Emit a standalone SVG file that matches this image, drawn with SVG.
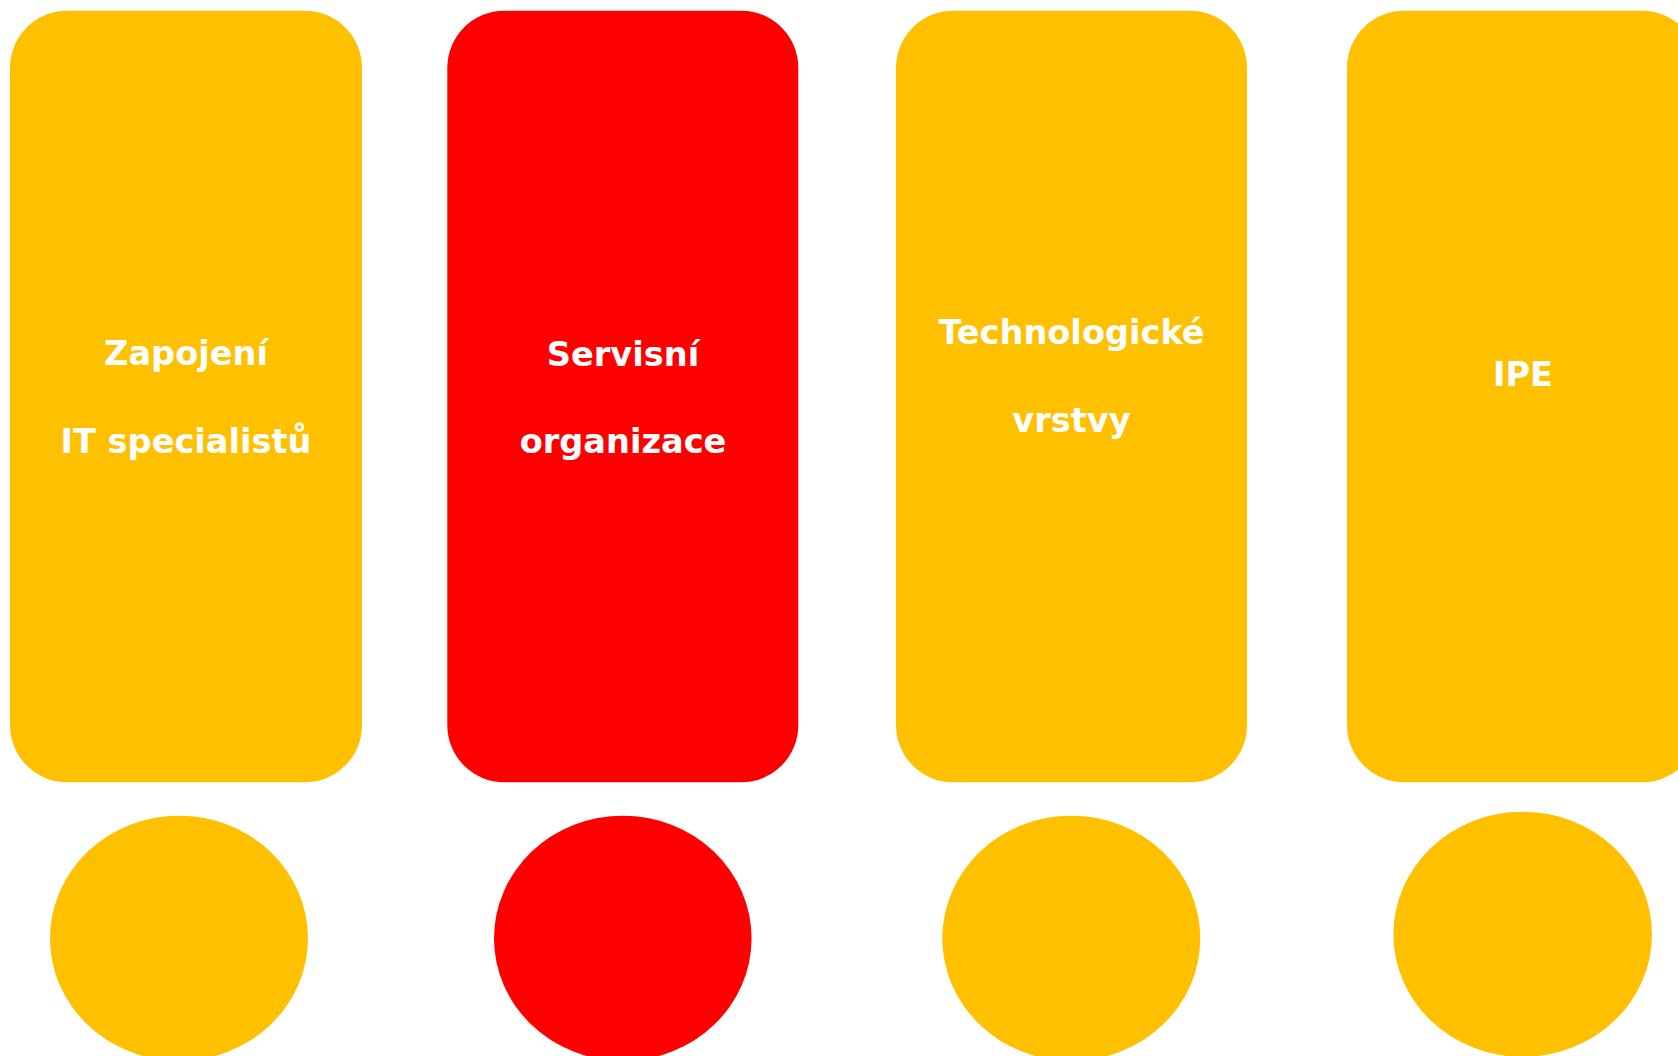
<svg xmlns="http://www.w3.org/2000/svg" width="1678" height="1056" viewBox="0 0 1678 1056">
  <style>
    .gold { fill: #FFC000; }
    .red { fill: #FF0000; }
    .label { fill: #FFFFFF; font-family: "DejaVu Sans", Verdana, sans-serif; font-weight: bold; font-size: 33.6px; text-anchor: middle; }
  </style>
  <rect width="1678" height="1056" fill="#FFFFFF"/>

  <g id="connectors"></g>

  <!-- column 1 -->
  <g id="zapojeni">
    <rect class="gold" x="10" y="10.7" width="352" height="771.6" rx="57" ry="57"/>
    <text class="label" x="186" y="365">Zapojení</text>
    <text class="label" x="186" y="453">IT specialistů</text>
  </g>
  <g id="circle-1">
    <ellipse class="gold" cx="179" cy="938.3" rx="129" ry="122.6"/>
  </g>

  <!-- column 2 -->
  <g id="servisni">
    <rect class="red" x="447.3" y="10.7" width="351" height="771.6" rx="57" ry="57"/>
    <text class="label" x="623" y="365.5">Servisní</text>
    <text class="label" x="623" y="453">organizace</text>
  </g>
  <g id="circle-2">
    <ellipse class="red" cx="622.8" cy="938.3" rx="128.8" ry="122.6"/>
  </g>

  <!-- column 3 -->
  <g id="technologicke">
    <rect class="gold" x="896" y="10.7" width="351" height="771.6" rx="57" ry="57"/>
    <text class="label" x="1071.5" y="344">Technologické</text>
    <text class="label" x="1071.5" y="432">vrstvy</text>
  </g>
  <g id="circle-3">
    <ellipse class="gold" cx="1071.3" cy="938.3" rx="129" ry="122.6"/>
  </g>

  <!-- column 4 -->
  <g id="ipe">
    <rect class="gold" x="1347" y="10.7" width="352" height="771.6" rx="57" ry="57"/>
    <text class="label" x="1523" y="386">IPE</text>
  </g>
  <g id="circle-4">
    <ellipse class="gold" cx="1522.7" cy="934.3" rx="129.3" ry="122.6"/>
  </g>
</svg>
